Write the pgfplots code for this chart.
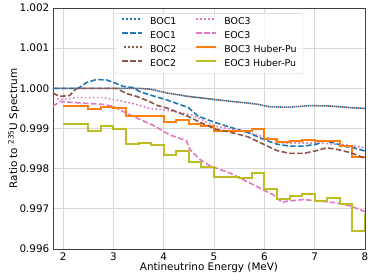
\documentclass[border=0pt]{standalone}
\usepackage{fontspec}
\setmainfont{DejaVu Sans}
\usepackage{pgfplots}
\pgfplotsset{compat=1.18}
\definecolor{tabblue}{HTML}{1F77B4}
\definecolor{tabbrown}{HTML}{8C564B}
\definecolor{tabpink}{HTML}{E377C2}
\definecolor{taborange}{HTML}{FF7F0E}
\definecolor{tabolive}{HTML}{BCBD22}
\definecolor{gridgray}{RGB}{216,216,216}
\begin{document}
\begin{tikzpicture}
\useasboundingbox (-53bp,-31bp) rectangle (321bp,249bp);
\begin{axis}[
  at={(0,0)}, anchor=south west,
  scale only axis, width=312bp, height=241bp,
  xmin=1.8, xmax=8, ymin=0.996, ymax=1.002,
  xtick={2,3,4,5,6,7,8},
  ytick={0.996,0.997,0.998,0.999,1.000,1.001,1.002},
  yticklabel style={/pgf/number format/fixed,/pgf/number format/fixed zerofill,/pgf/number format/precision=3},
  /pgf/number format/assume math mode=true,
  tick label style={font=\fontsize{10.4bp}{12bp}\selectfont, inner sep=0pt},
  yticklabel style={xshift=-3.5bp},
  xticklabel style={yshift=-3.5bp},
  major tick length=0pt,
  grid=major, grid style={line width=0.8bp, color=gridgray},
  axis line style={line width=0.8bp, color=black!75},
  every axis y label/.style={at={(axis description cs:-0.1442,0.5)}, rotate=90, anchor=north, inner sep=0pt, font=\fontsize{10.4bp}{12bp}\selectfont},
  every axis x label/.style={at={(axis description cs:0.5,0)}, anchor=north, yshift=-13.5bp, inner sep=0pt, font=\fontsize{10.4bp}{12bp}\selectfont},
  xlabel={Antineutrino Energy (MeV)},
  ylabel={Ratio to \textsuperscript{235}U Spectrum},
  legend columns=2,
  legend cell align=left,
  legend image code/.code={\draw[#1, sharp corners] (0bp,3.3bp) -- (20bp,3.3bp);},
  legend style={at={(0.5,0.97842)}, anchor=north, draw=black!20, rounded corners=2bp,
    fill=white, fill opacity=0.8, text opacity=1, draw opacity=1, inner xsep=6.5bp, inner ysep=4.4bp,
    font=\fontsize{9.4bp}{11bp}\selectfont, column sep=7bp, row sep=4.7bp,
    nodes={inner sep=0pt, text height=7.2bp, text depth=2.1bp},
    /tikz/every even column/.append style={column sep=19bp}},
]
% BOC1
\addplot[color=tabblue, line width=1.6bp, dash pattern=on 1.6bp off 2.4bp] coordinates {
(1.8,1.00000) (3.5,1.00000) (3.73,0.99998) (4.09,0.99988) (4.49,0.99980) (5.02,0.99972)
(5.68,0.99963) (5.88,0.99960) (6.11,0.99954) (6.51,0.99953) (6.91,0.99957) (7.31,0.99956)
(7.71,0.99952) (8.0,0.99950)};
\addlegendentry{BOC1}
% BOC3
\addplot[color=tabpink, line width=1.6bp, dash pattern=on 1.6bp off 2.4bp] coordinates {
(1.8,0.99975) (2.0,0.99972) (2.27,0.99977) (2.46,0.99977) (2.8,0.99977) (3.13,0.99969)
(3.39,0.99962) (3.72,0.99950) (4.09,0.99945) (4.55,0.99934) (5.02,0.99906) (5.35,0.99898)
(5.68,0.99890) (5.98,0.99880) (6.38,0.99864) (7.04,0.99864) (7.57,0.99860) (8.0,0.99852)};
\addlegendentry{BOC3}
% EOC1
\addplot[color=tabblue, line width=1.6bp, dash pattern=on 5.5bp off 2.4bp] coordinates {
(1.8,1.00000) (2.3,1.00000) (2.46,1.00014) (2.66,1.00022) (2.86,1.00021) (3.06,1.00012)
(3.19,1.00005) (3.39,1.00002) (3.52,0.99992) (3.69,0.99985) (4.09,0.99970) (4.49,0.99952)
(4.68,0.99931) (5.02,0.99915) (5.35,0.99902) (5.68,0.99890) (5.98,0.99873) (6.25,0.99861)
(6.51,0.99856) (6.78,0.99856) (7.04,0.99861) (7.17,0.99869) (7.37,0.99865) (7.57,0.99856)
(7.77,0.99852) (8.0,0.99844)};
\addlegendentry{EOC1}
% EOC3
\addplot[color=tabpink, line width=1.6bp, dash pattern=on 5.5bp off 2.4bp] coordinates {
(1.8,0.99955) (1.93,0.99967) (2.07,0.99966) (2.4,0.99963) (2.8,0.99960) (3.0,0.99955)
(3.26,0.99938) (3.52,0.99923) (3.79,0.99908) (4.12,0.99884) (4.45,0.99870) (4.52,0.99848)
(4.72,0.99823) (4.92,0.99807) (5.32,0.99789) (5.72,0.99764) (5.98,0.99747) (6.18,0.99735)
(6.35,0.99716) (6.45,0.99719) (6.78,0.99723) (7.11,0.99719) (7.44,0.99715) (7.71,0.99707)
(8.0,0.99693)};
\addlegendentry{EOC3}
% BOC2
\addplot[color=tabbrown, line width=1.6bp, dash pattern=on 1.6bp off 2.4bp, dash phase=2bp] coordinates {
(1.8,1.00000) (3.5,1.00000) (3.73,0.99998) (4.09,0.99988) (4.49,0.99980) (5.02,0.99972)
(5.68,0.99963) (5.88,0.99960) (6.11,0.99954) (6.51,0.99953) (6.91,0.99957) (7.31,0.99956)
(7.71,0.99952) (8.0,0.99950)};
\addlegendentry{BOC2}
% BOC3 Huber-Pu
\addplot[color=taborange, line width=2bp, const plot] coordinates {
(2.0,0.99957) (2.25,0.99957) (2.5,0.99948) (2.75,0.99953) (3.0,0.99950) (3.25,0.99932)
(3.5,0.99932) (3.75,0.99932) (4.0,0.99917) (4.25,0.99922) (4.5,0.99911) (4.75,0.99905)
(5.0,0.99893) (5.25,0.99893) (5.5,0.99893) (5.75,0.99898) (6.0,0.99875) (6.25,0.99866)
(6.5,0.99868) (6.75,0.99871) (7.0,0.99870) (7.25,0.99870) (7.5,0.99856) (7.75,0.99828)
(8.0,0.99828)};
\addlegendentry{BOC3 Huber-Pu}
% EOC2
\addplot[color=tabbrown, line width=1.6bp, dash pattern=on 5.5bp off 2.4bp] coordinates {
(1.8,0.99988) (1.93,0.99980) (2.13,0.99982) (2.27,1.00000) (3.06,1.00000) (3.26,0.99987)
(3.46,0.99980) (3.72,0.99967) (3.86,0.99958) (4.09,0.99950) (4.49,0.99930) (4.68,0.99918)
(5.02,0.99899) (5.35,0.99890) (5.68,0.99879) (5.98,0.99861) (6.25,0.99845) (6.51,0.99838)
(6.78,0.99838) (7.04,0.99845) (7.24,0.99852) (7.44,0.99848) (7.71,0.99840) (8.0,0.99826)};
\addlegendentry{EOC2}
% EOC3 Huber-Pu
\addplot[color=tabolive, line width=2bp, const plot] coordinates {
(2.0,0.99910) (2.25,0.99912) (2.5,0.99894) (2.75,0.99905) (3.0,0.99898) (3.25,0.99862)
(3.5,0.99865) (3.75,0.99860) (4.0,0.99833) (4.25,0.99843) (4.5,0.99817) (4.75,0.99803)
(5.0,0.99780) (5.25,0.99780) (5.5,0.99776) (5.75,0.99788) (6.0,0.99749) (6.25,0.99724)
(6.5,0.99732) (6.75,0.99736) (7.0,0.99720) (7.25,0.99728) (7.5,0.99711) (7.75,0.99645)
(8.0,0.99684) (8.25,0.99684)};
\addlegendentry{EOC3 Huber-Pu}
\end{axis}
\end{tikzpicture}
\end{document}
